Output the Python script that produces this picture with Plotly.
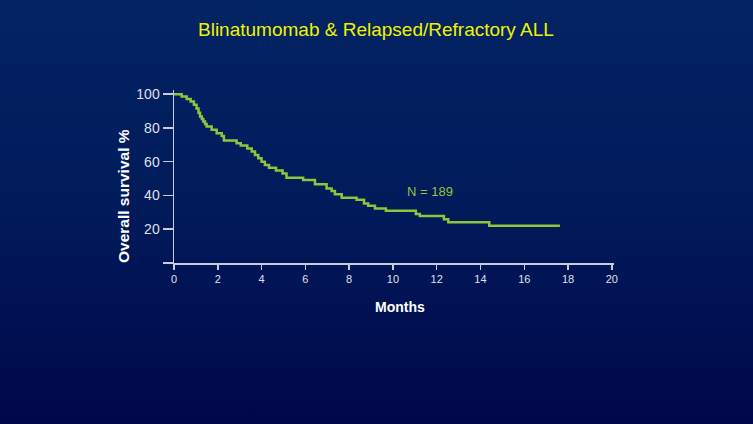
import base64
import plotly.graph_objects as go

# Kaplan-Meier step points (months, overall survival %)
months = [0, 0.35, 0.58, 0.76, 0.91, 1.03, 1.12, 1.19, 1.27, 1.34, 1.42, 1.49,
          1.72, 1.95, 2.18, 2.28, 2.86, 3.05, 3.35, 3.55, 3.7, 3.85, 4.0, 4.15,
          4.34, 4.66, 4.96, 5.14, 5.9, 6.44, 6.97, 7.2, 7.35, 7.66, 8.34, 8.68,
          8.87, 9.18, 9.68, 11.05, 11.23, 12.33, 12.53, 14.4, 17.63]
survival = [100, 98.6, 97.2, 95.7, 93.7, 91.5, 89, 86.8, 85.3, 83.8, 82.3, 80.9,
            78.9, 76.9, 75.3, 72.6, 71, 69.6, 67.9, 66, 64, 62, 60, 58,
            56.4, 54.8, 53, 50.5, 49.2, 46.7, 44.2, 42.6, 40.8, 38.6, 37.5, 35.3,
            33.9, 32.3, 31, 29, 27.8, 25.9, 24.1, 22.1, 22.1]

x_ticks = [0, 2, 4, 6, 8, 10, 12, 14, 16, 18, 20]
y_ticks = [0, 20, 40, 60, 80, 100]
y_tick_labels = ["", "20", "40", "60", "80", "100"]

title_text = "Blinatumomab & Relapsed/Refractory ALL"
x_title = "Months"
y_title = "Overall survival %"
n_label = "N = 189"

W, H = 753, 424
L, R, T, B = 174, 139, 90, 161
PW, PH = W - L - R, H - T - B

svg = (f'<svg xmlns="http://www.w3.org/2000/svg" width="{W}" height="{H}" preserveAspectRatio="none">'
       '<defs><linearGradient id="g" x1="0" y1="0" x2="0" y2="1">'
       '<stop offset="0" stop-color="#032463"/><stop offset="0.5" stop-color="#011a5a"/>'
       '<stop offset="1" stop-color="#00074a"/></linearGradient></defs>'
       f'<rect width="{W}" height="{H}" fill="url(#g)"/></svg>')
bg_uri = "data:image/svg+xml;base64," + base64.b64encode(svg.encode()).decode()

FONT = "Arial, Liberation Sans, sans-serif"
GREEN = "#8cc63f"
AXIS = "#c9cbd8"
TICKTXT = "#dfe0ea"

fig = go.Figure()
fig.add_trace(go.Scatter(x=months, y=survival, mode="lines",
                         line=dict(shape="hv", color=GREEN, width=2.5),
                         hoverinfo="skip", showlegend=False))

fig.update_layout(
    width=W, height=H,
    margin=dict(l=L, r=R, t=T, b=B, pad=0),
    paper_bgcolor="#011a5a", plot_bgcolor="rgba(0,0,0,0)",
    font=dict(family=FONT, color=TICKTXT),
    images=[dict(source=bg_uri, xref="paper", yref="paper",
                 x=-L / PW, y=1 + T / PH, sizex=W / PW, sizey=H / PH,
                 sizing="stretch", xanchor="left", yanchor="top", layer="below")],
    xaxis=dict(range=[0, 20.1], tickvals=x_ticks, ticktext=[str(v) for v in x_ticks],
               showgrid=False, zeroline=False, showline=True, linecolor=AXIS, linewidth=1.5,
               ticks="outside", ticklen=5, tickwidth=1.5, tickcolor=AXIS,
               tickfont=dict(size=11, color=TICKTXT, family=FONT)),
    yaxis=dict(range=[0, 102.5], tickvals=y_ticks, ticktext=y_tick_labels,
               showgrid=False, zeroline=False, showline=True, linecolor=AXIS, linewidth=1.5,
               ticks="outside", ticklen=10, tickwidth=1.5, tickcolor=AXIS,
               tickfont=dict(size=14, color=TICKTXT, family=FONT)),
    annotations=[
        dict(text=title_text, xref="paper", yref="paper", x=(376 - L) / PW, y=1 + (T - 30) / PH,
             xanchor="center", yanchor="middle", showarrow=False,
             font=dict(size=19, color="#f2f200", family=FONT)),
        dict(text=f"<b>{x_title}</b>", xref="paper", yref="paper", x=(400 - L) / PW, y=-(307 - T - PH) / PH,
             xanchor="center", yanchor="middle", showarrow=False,
             font=dict(size=14, color="#ffffff", family=FONT)),
        dict(text=f"<b>{y_title}</b>", xref="paper", yref="paper", x=-(L - 123) / PW, y=(263 - 196) / PH,
             xanchor="center", yanchor="middle", showarrow=False, textangle=-90,
             font=dict(size=15.5, color="#ffffff", family=FONT)),
        dict(text=n_label, xref="x", yref="y", x=11.71, y=42.3,
             xanchor="center", yanchor="middle", showarrow=False,
             font=dict(size=13, color=GREEN, family=FONT)),
    ],
)

fig.write_html("out.html", config={"displayModeBar": False, "staticPlot": True},
               post_script="document.body.style.margin='0';document.body.style.background='#00074a';")
